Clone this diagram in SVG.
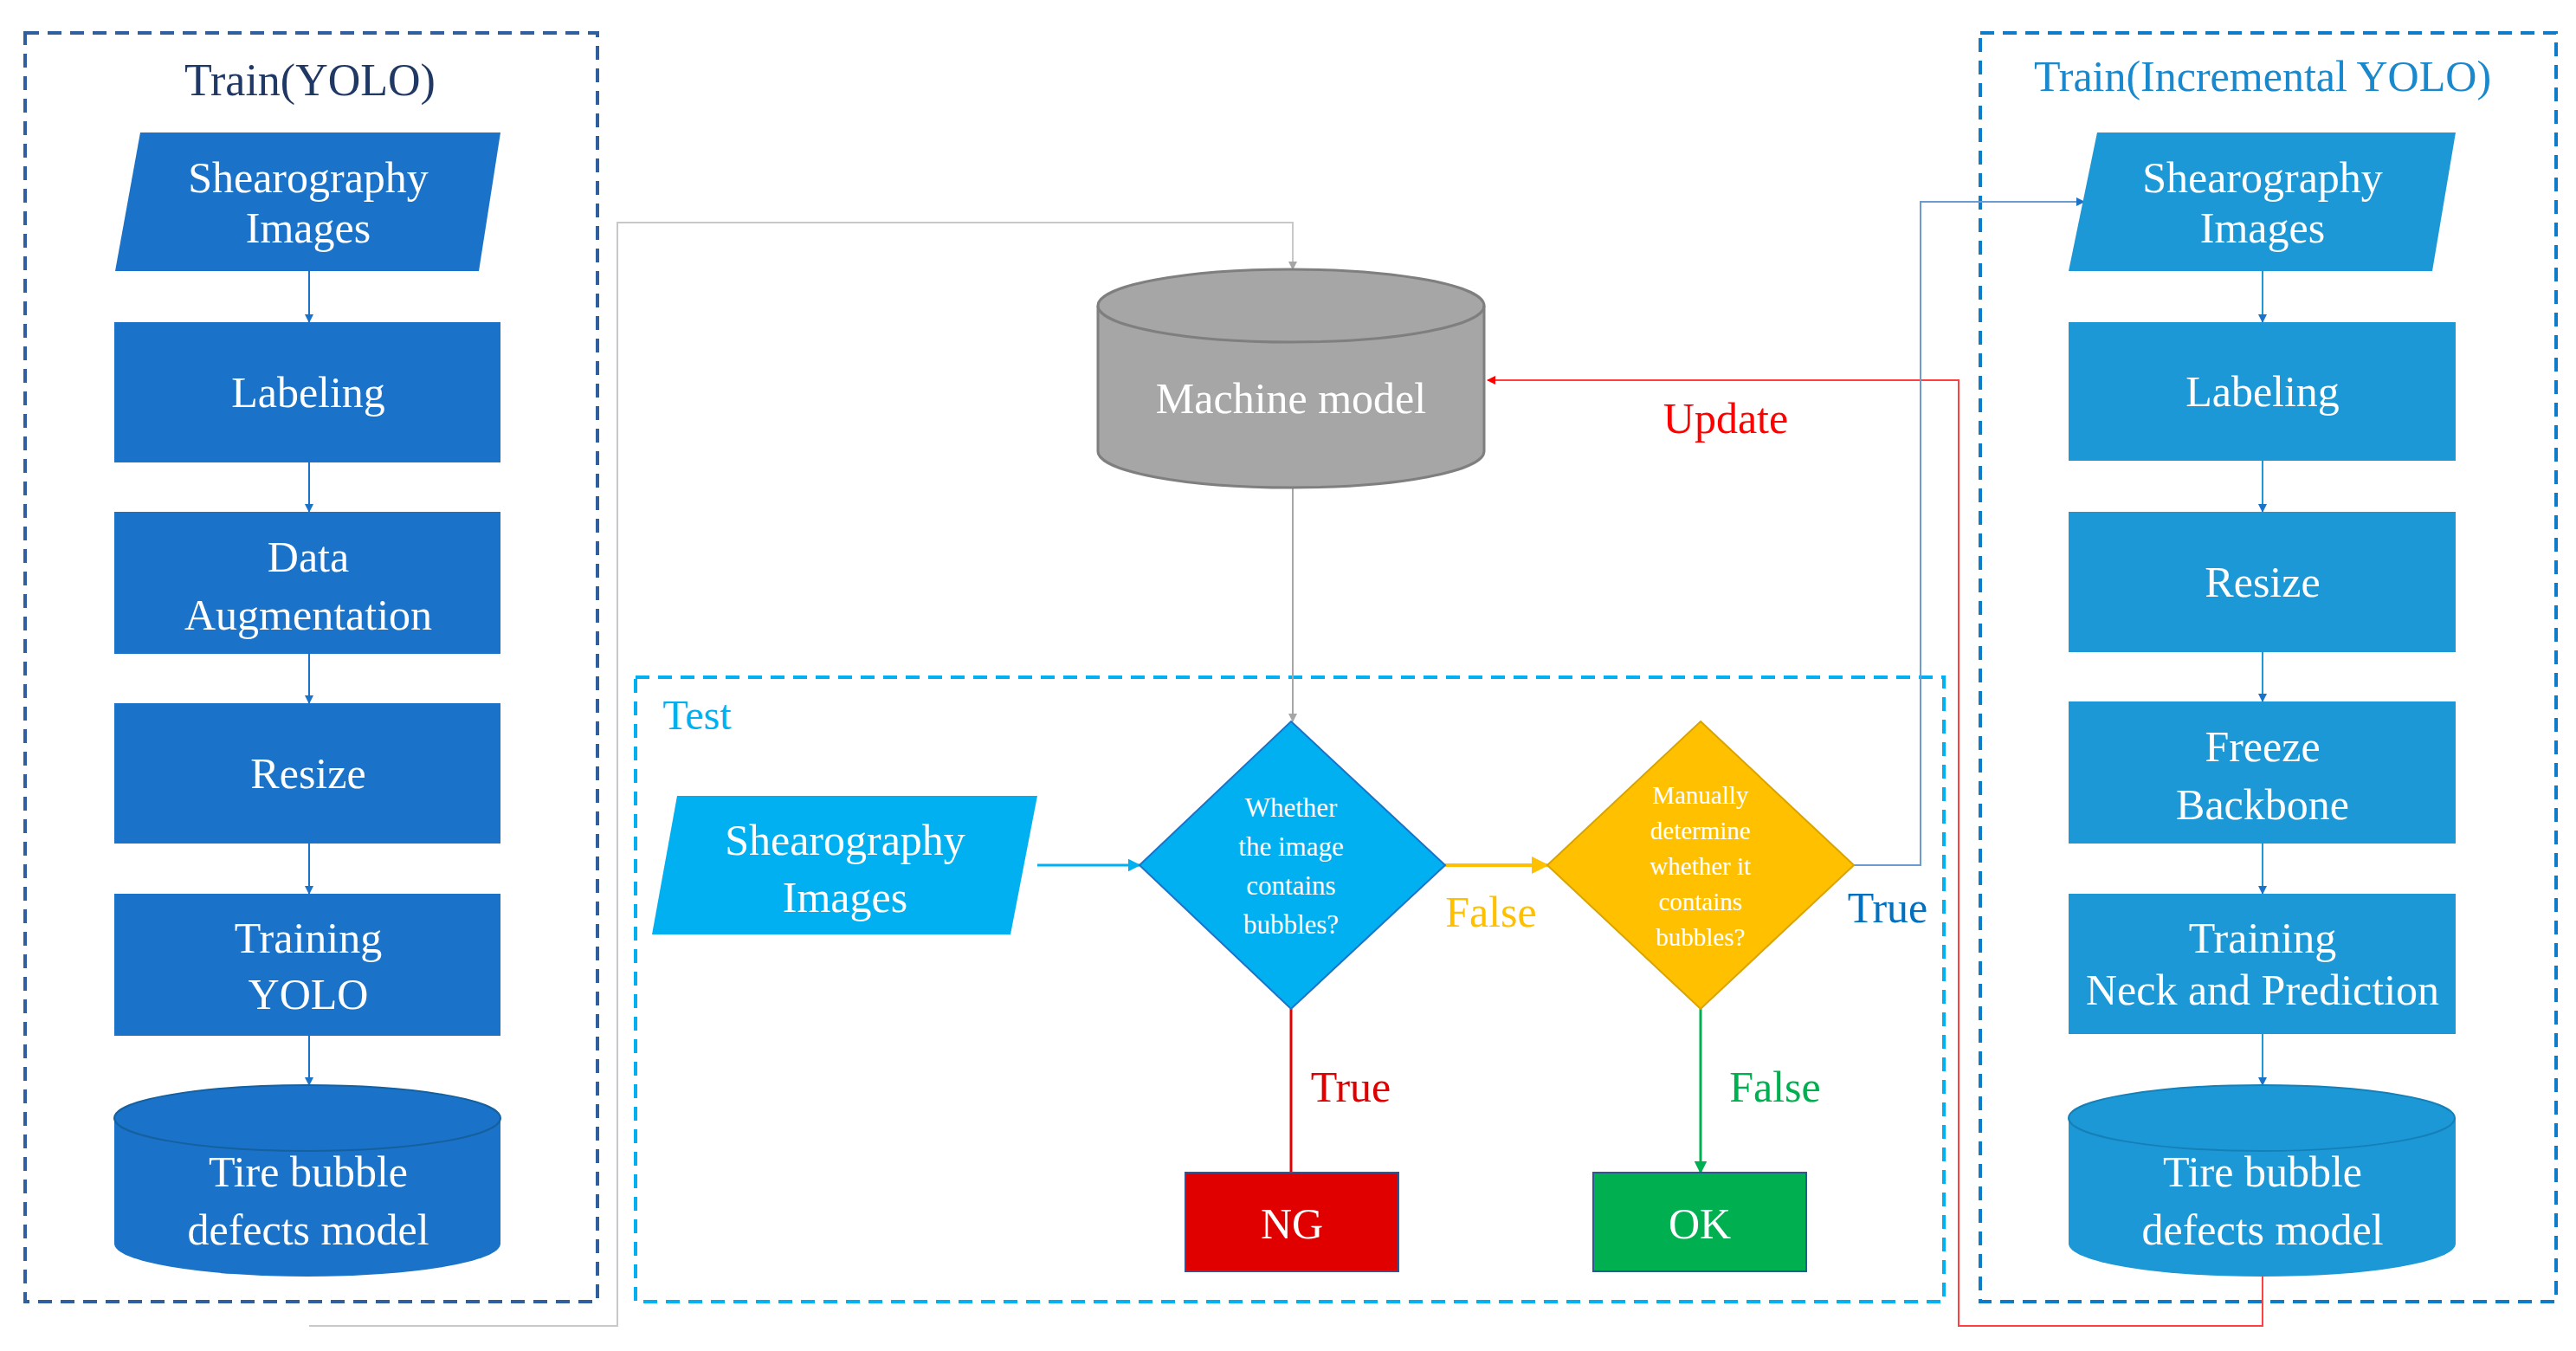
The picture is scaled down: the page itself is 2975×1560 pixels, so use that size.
<svg xmlns="http://www.w3.org/2000/svg" width="2975" height="1560" viewBox="0 0 2975 1560">
<defs>
<style>
text{font-family:"Liberation Serif","Times New Roman",serif;text-anchor:middle}
.w{fill:#fff;font-size:50px}
.lb{fill:#1a73c9}
.rb{fill:#1d98d6}
.ds{fill:none;stroke-width:4;stroke-dasharray:16 10}
</style>
<marker id="ab" viewBox="0 0 10 10" refX="9" refY="5" markerWidth="5" markerHeight="5" orient="auto"><path d="M0,0L10,5L0,10z" fill="#1a73c9"/></marker>
<marker id="ag" viewBox="0 0 10 10" refX="9" refY="5" markerWidth="5" markerHeight="5" orient="auto"><path d="M0,0L10,5L0,10z" fill="#a6a6a6"/></marker>
<marker id="ar" viewBox="0 0 10 10" refX="9" refY="5" markerWidth="5" markerHeight="5" orient="auto"><path d="M0,0L10,5L0,10z" fill="#ff0000"/></marker>
<marker id="ay" viewBox="0 0 10 10" refX="9" refY="5" markerWidth="5" markerHeight="5" orient="auto"><path d="M0,0L10,5L0,10z" fill="#ffc000"/></marker>
<marker id="agr" viewBox="0 0 10 10" refX="9" refY="5" markerWidth="5" markerHeight="5" orient="auto"><path d="M0,0L10,5L0,10z" fill="#00b050"/></marker>
<marker id="ac" viewBox="0 0 10 10" refX="9" refY="5" markerWidth="5" markerHeight="5" orient="auto"><path d="M0,0L10,5L0,10z" fill="#00b0f0"/></marker>
</defs>
<rect width="2975" height="1560" fill="#fff"/>
<g id="frames">
<rect x="29" y="38" width="661" height="1465" class="ds" stroke="#2f5f9e"/>
<rect x="734" y="782" width="1511" height="721" class="ds" stroke="#00b0f0"/>
<rect x="2287" y="38" width="665" height="1465" class="ds" stroke="#0f7cc9"/>
<text x="358" y="110" font-size="52" fill="#1f3864">Train(YOLO)</text>
<text x="2613" y="105" font-size="50" fill="#1a88cc">Train(Incremental YOLO)</text>
<text x="805" y="842" font-size="48" fill="#00b0f0">Test</text>
</g>
<g id="connectors" fill="none" stroke-width="2">
<g stroke="#1a73c9" marker-end="url(#ab)">
<line x1="357" y1="313" x2="357" y2="372"/><line x1="357" y1="534" x2="357" y2="591"/><line x1="357" y1="755" x2="357" y2="812"/><line x1="357" y1="974" x2="357" y2="1032"/><line x1="357" y1="1196" x2="357" y2="1253"/>
</g>
<g stroke="#1d98d6" marker-end="url(#ab)">
<line x1="2613" y1="313" x2="2613" y2="372"/><line x1="2613" y1="532" x2="2613" y2="591"/><line x1="2613" y1="753" x2="2613" y2="810"/><line x1="2613" y1="974" x2="2613" y2="1032"/><line x1="2613" y1="1194" x2="2613" y2="1253"/>
</g>
<polyline points="357,1531 713,1531 713,257 1493,257 1493,311" stroke="#c8c8c8" marker-end="url(#ag)"/>
<line x1="1493" y1="563" x2="1493" y2="833" stroke="#a6a6a6" marker-end="url(#ag)"/>
<polyline points="2613,1474 2613,1531 2262,1531 2262,439 1718,439" stroke="#ff4040" marker-end="url(#ar)"/>
<line x1="1198" y1="999" x2="1316" y2="999" stroke="#00b0f0" stroke-width="3" marker-end="url(#ac)"/>
<line x1="1669" y1="999" x2="1787" y2="999" stroke="#ffc000" stroke-width="4" marker-end="url(#ay)"/>
<polyline points="2141,999 2218,999 2218,233 2407,233" stroke="#6c9bd2" marker-end="url(#ab)"/>
<line x1="1491" y1="1165" x2="1491" y2="1354" stroke="#e00000" stroke-width="3"/>
<line x1="1964" y1="1165" x2="1964" y2="1354" stroke="#00b050" stroke-width="3" marker-end="url(#agr)"/>
</g>
<g id="labels" font-size="50">
<text x="1993" y="500" fill="#ff0000">Update</text>
<text x="1722" y="1070" fill="#ffc000">False</text>
<text x="2180" y="1065" fill="#0070c0">True</text>
<text x="1560" y="1272" fill="#e00000">True</text>
<text x="2050" y="1272" fill="#00b050">False</text>
</g>
<g id="l-img"><polygon points="162,153 578,153 553,313 133,313" class="lb"/><text class="w" x="356" y="222" font-size="46">Shearography</text><text class="w" x="356" y="280" font-size="46">Images</text></g>
<g id="l-label"><rect x="132" y="372" width="446" height="162" class="lb"/><text class="w" x="356" y="470">Labeling</text></g>
<g id="l-aug"><rect x="132" y="591" width="446" height="164" class="lb"/><text class="w" x="356" y="660">Data</text><text class="w" x="356" y="727">Augmentation</text></g>
<g id="l-resize"><rect x="132" y="812" width="446" height="162" class="lb"/><text class="w" x="356" y="910">Resize</text></g>
<g id="l-train"><rect x="132" y="1032" width="446" height="164" class="lb"/><text class="w" x="356" y="1100">Training</text><text class="w" x="356" y="1165">YOLO</text></g>
<g id="l-model"><path d="M132,1291 V1436 A223,38 0 0 0 578,1436 V1291 A223,38 0 0 0 132,1291z" class="lb"/><ellipse cx="355" cy="1291" rx="223" ry="38" fill="#1a73c9" stroke="#15609f" stroke-width="2"/><text class="w" x="356" y="1370">Tire bubble</text><text class="w" x="356" y="1437">defects model</text></g>
<g id="machine"><path d="M1268,353 V521 A223,42 0 0 0 1714,521 V353z" fill="#a6a6a6"/><ellipse cx="1491" cy="353" rx="223" ry="42" fill="#a6a6a6" stroke="#7f7f7f" stroke-width="3"/><path d="M1268,521 A223,42 0 0 0 1714,521" fill="none" stroke="#7f7f7f" stroke-width="3"/><line x1="1268" y1="353" x2="1268" y2="521" stroke="#7f7f7f" stroke-width="3"/><line x1="1714" y1="353" x2="1714" y2="521" stroke="#7f7f7f" stroke-width="3"/><text class="w" x="1491" y="477">Machine model</text></g>
<g id="t-img"><polygon points="782,919 1198,919 1167,1079 753,1079" fill="#00b0f0"/><text class="w" x="976" y="987">Shearography</text><text class="w" x="976" y="1053">Images</text></g>
<g id="d1"><polygon points="1491,833 1669,999 1491,1165 1316,999" fill="#00b0f0" stroke="#1a73c9" stroke-width="2"/><g font-size="31" fill="#fff"><text x="1491" y="943">Whether</text><text x="1491" y="988">the image</text><text x="1491" y="1033">contains</text><text x="1491" y="1078">bubbles?</text></g></g>
<g id="d2"><polygon points="1964,833 2141,999 1964,1165 1787,999" fill="#ffc000" stroke="#d9a300" stroke-width="2"/><g font-size="29" fill="#fff"><text x="1964" y="928">Manually</text><text x="1964" y="969">determine</text><text x="1964" y="1010">whether it</text><text x="1964" y="1051">contains</text><text x="1964" y="1092">bubbles?</text></g></g>
<g id="ng"><rect x="1369" y="1354" width="246" height="114" fill="#e00000" stroke="#2f5597" stroke-width="2"/><text class="w" x="1492" y="1430">NG</text></g>
<g id="ok"><rect x="1840" y="1354" width="246" height="114" fill="#00b050" stroke="#2f5597" stroke-width="2"/><text class="w" x="1963" y="1430">OK</text></g>
<g id="r-img"><polygon points="2422,153 2836,153 2809,313 2389,313" class="rb"/><text class="w" x="2613" y="222" font-size="46">Shearography</text><text class="w" x="2613" y="280" font-size="46">Images</text></g>
<g id="r-label"><rect x="2389" y="372" width="447" height="160" class="rb"/><text class="w" x="2613" y="469">Labeling</text></g>
<g id="r-resize"><rect x="2389" y="591" width="447" height="162" class="rb"/><text class="w" x="2613" y="689">Resize</text></g>
<g id="r-freeze"><rect x="2389" y="810" width="447" height="164" class="rb"/><text class="w" x="2613" y="879">Freeze</text><text class="w" x="2613" y="946">Backbone</text></g>
<g id="r-train"><rect x="2389" y="1032" width="447" height="162" class="rb"/><text class="w" x="2613" y="1100" font-size="46">Training</text><text class="w" x="2613" y="1160" font-size="46">Neck and Prediction</text></g>
<g id="r-model"><path d="M2389,1291 V1436 A223,38 0 0 0 2836,1436 V1291z" class="rb"/><ellipse cx="2612" cy="1291" rx="223" ry="38" fill="#1d98d6" stroke="#1580b8" stroke-width="2"/><text class="w" x="2613" y="1370">Tire bubble</text><text class="w" x="2613" y="1437">defects model</text></g>
</svg>
